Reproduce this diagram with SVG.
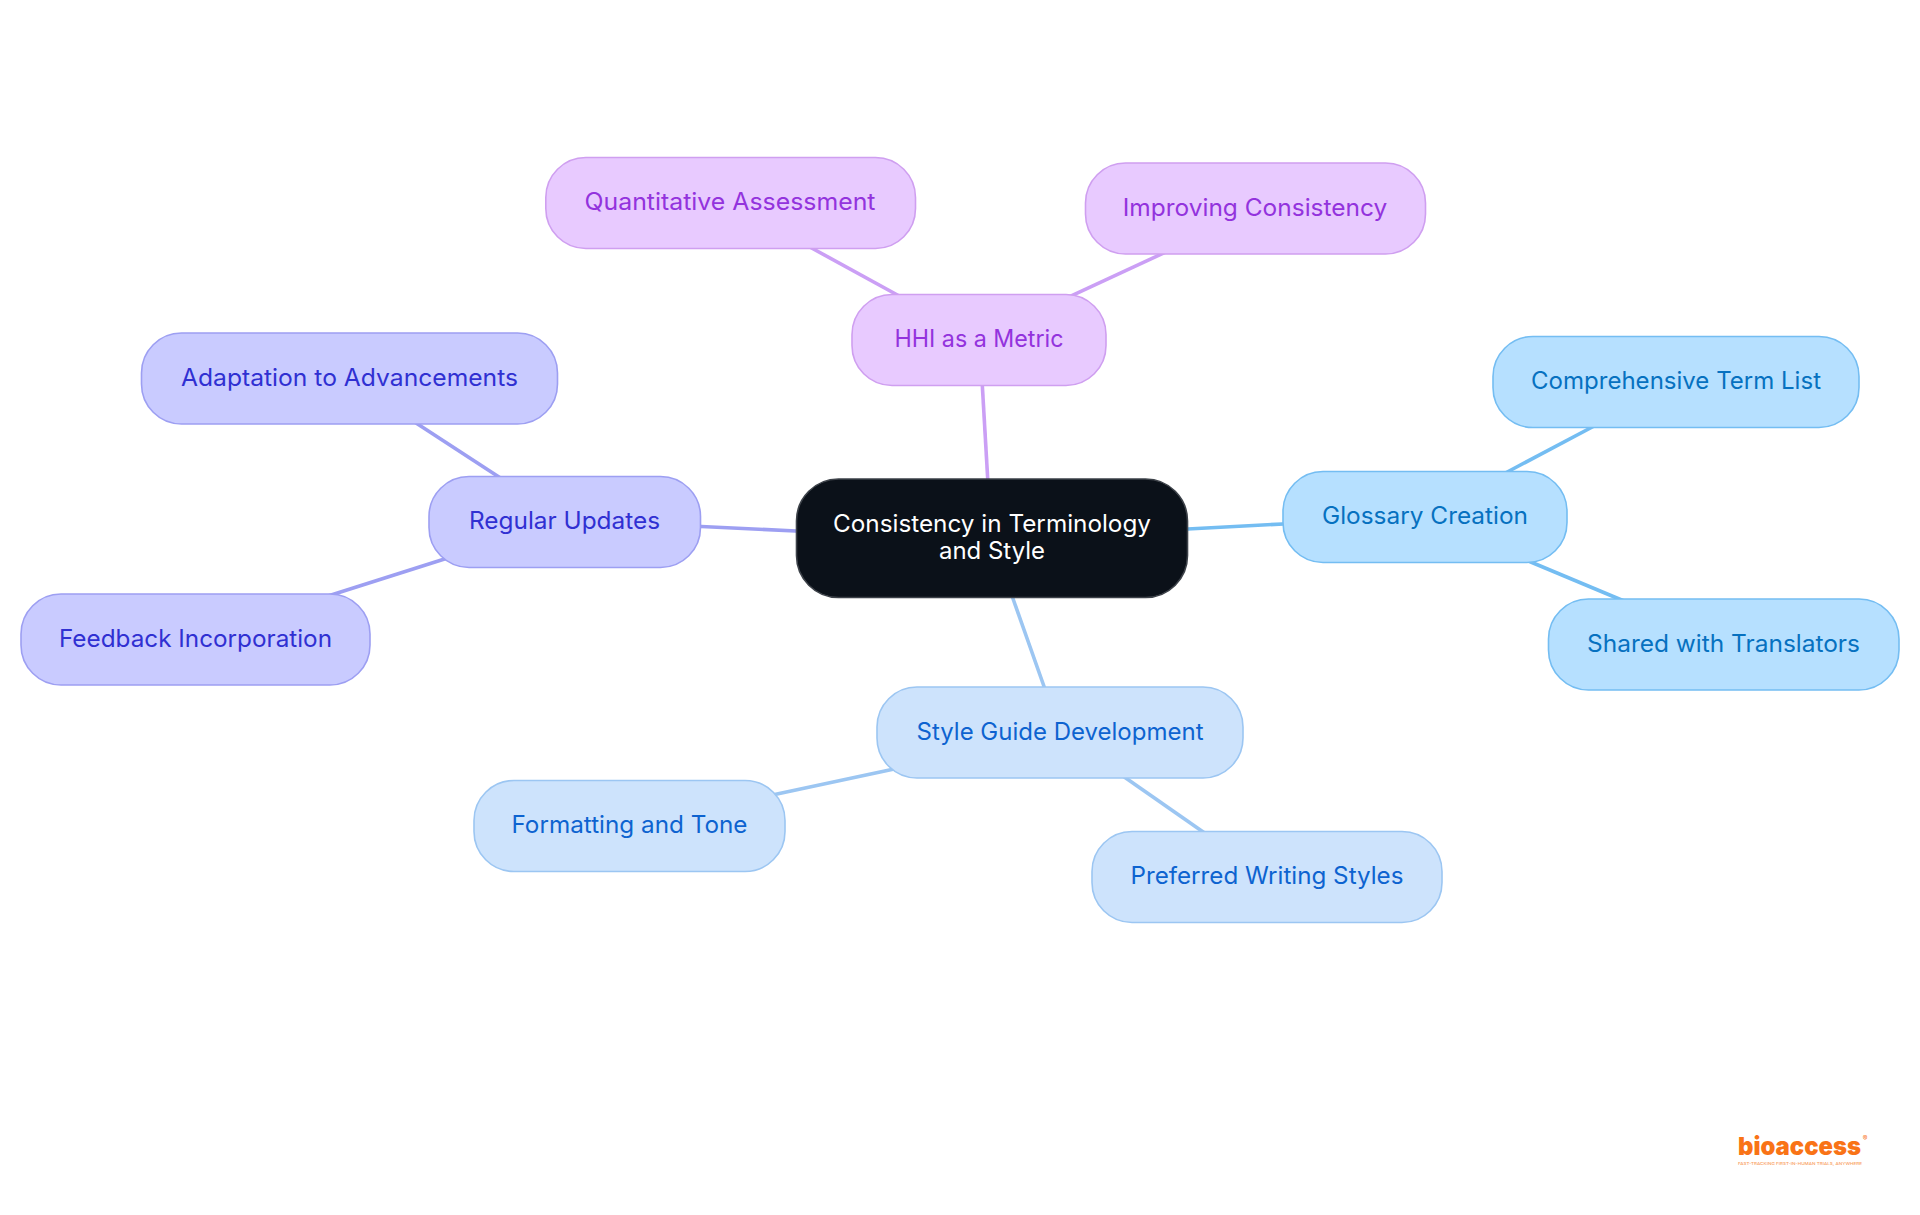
<svg xmlns="http://www.w3.org/2000/svg" width="1920" height="1215" viewBox="0 0 1920 1215">
<style>
text{font-family:"Inter","Noto Sans",sans-serif;font-size:24px;font-weight:400;text-anchor:middle}
.n{stroke-width:1.6}
.c line{stroke-width:3.6;fill:none}
.p rect{fill:#e8caff;stroke:#cf9ff0}.p text{fill:#9333dd}.p2{stroke:#cb9ff5}
.i rect{fill:#c9cbff;stroke:#9d9ff2}.i text{fill:#3030d2}.i2{stroke:#9d9ff2}
.l rect{fill:#cde3fc;stroke:#9cc6f2}.l text{fill:#0d63d0}.l2{stroke:#9cc6f2}
.s rect{fill:#b6e0ff;stroke:#74bdf2}.s text{fill:#0671c0}.s2{stroke:#74bdf2}
.o{fill:#f97316}
</style>
<rect width="1920" height="1215" fill="#fff"/>
<g id="connectors" class="c">
<line class="p2" x1="982" y1="380" x2="988" y2="484"/>
<line class="s2" x1="1183" y1="529.3" x2="1288" y2="523.7"/>
<line class="l2" x1="1011" y1="593" x2="1046" y2="692"/>
<line class="i2" x1="801" y1="531.2" x2="696" y2="526.3"/>
<line class="i2" x1="413" y1="421" x2="502" y2="479"/>
<line class="i2" x1="454" y1="556" x2="328" y2="596"/>
<line class="p2" x1="808" y1="246" x2="902" y2="297.5"/>
<line class="p2" x1="1165" y1="252.4" x2="1068" y2="297.3"/>
<line class="s2" x1="1597" y1="424.5" x2="1503.5" y2="474"/>
<line class="s2" x1="1526" y1="560" x2="1624" y2="601"/>
<line class="l2" x1="900" y1="767.7" x2="770" y2="795.5"/>
<line class="l2" x1="1120" y1="774" x2="1207.5" y2="835"/>
</g>
<g id="root"><rect x="796.5" y="479" width="391" height="118.5" rx="42" fill="#0b1119" stroke="#3d4249" stroke-width="1.6"/>
<text x="992" y="531.5" fill="#fff" textLength="318" lengthAdjust="spacingAndGlyphs">Consistency in Terminology</text>
<text x="992" y="559" fill="#fff" textLength="106" lengthAdjust="spacingAndGlyphs">and Style</text></g>
<g id="hhi" class="p"><rect class="n" x="852" y="294.5" width="254" height="91" rx="40"/><text x="979" y="347" textLength="169" lengthAdjust="spacingAndGlyphs">HHI as a Metric</text></g>
<g id="quant" class="p"><rect class="n" x="545.8" y="157.5" width="369.7" height="91" rx="40"/><text x="730" y="210" textLength="291" lengthAdjust="spacingAndGlyphs">Quantitative Assessment</text></g>
<g id="improving" class="p"><rect class="n" x="1085.5" y="163" width="340" height="91" rx="40"/><text x="1255" y="216" textLength="264.5" lengthAdjust="spacingAndGlyphs">Improving Consistency</text></g>
<g id="regular" class="i"><rect class="n" x="429" y="476.5" width="271.5" height="91" rx="40"/><text x="564.5" y="529" textLength="191" lengthAdjust="spacingAndGlyphs">Regular Updates</text></g>
<g id="adaptation" class="i"><rect class="n" x="141.5" y="333" width="416" height="91" rx="40"/><text x="349.5" y="386" textLength="337" lengthAdjust="spacingAndGlyphs">Adaptation to Advancements</text></g>
<g id="feedback" class="i"><rect class="n" x="21" y="594" width="349" height="91" rx="40"/><text x="195.5" y="647" textLength="273" lengthAdjust="spacingAndGlyphs">Feedback Incorporation</text></g>
<g id="style" class="l"><rect class="n" x="877" y="687" width="366" height="91" rx="40"/><text x="1060" y="740" textLength="287" lengthAdjust="spacingAndGlyphs">Style Guide Development</text></g>
<g id="formatting" class="l"><rect class="n" x="474" y="780.5" width="311" height="91" rx="40"/><text x="629.5" y="833" textLength="236" lengthAdjust="spacingAndGlyphs">Formatting and Tone</text></g>
<g id="preferred" class="l"><rect class="n" x="1092" y="831.5" width="350" height="91" rx="40"/><text x="1267" y="884" textLength="273" lengthAdjust="spacingAndGlyphs">Preferred Writing Styles</text></g>
<g id="glossary" class="s"><rect class="n" x="1283" y="471.5" width="284" height="91" rx="40"/><text x="1425" y="524" textLength="206" lengthAdjust="spacingAndGlyphs">Glossary Creation</text></g>
<g id="comprehensive" class="s"><rect class="n" x="1493" y="336.5" width="366" height="91" rx="40"/><text x="1676" y="389" textLength="290" lengthAdjust="spacingAndGlyphs">Comprehensive Term List</text></g>
<g id="shared" class="s"><rect class="n" x="1548.5" y="599" width="350.5" height="91" rx="40"/><text x="1723.5" y="652" textLength="273" lengthAdjust="spacingAndGlyphs">Shared with Translators</text></g>
<g id="logo"><text class="o" x="1799.5" y="1154.5" style="font-size:25px;font-weight:900" textLength="123" lengthAdjust="spacingAndGlyphs">bioaccess</text>
<text class="o" x="1865" y="1141" style="font-size:7px">®</text>
<text x="1800" y="1164.5" style="font-size:4px;font-weight:500;fill:#f9a060" textLength="124" lengthAdjust="spacingAndGlyphs">FAST-TRACKING FIRST-IN-HUMAN TRIALS, ANYWHERE</text></g>
</svg>
